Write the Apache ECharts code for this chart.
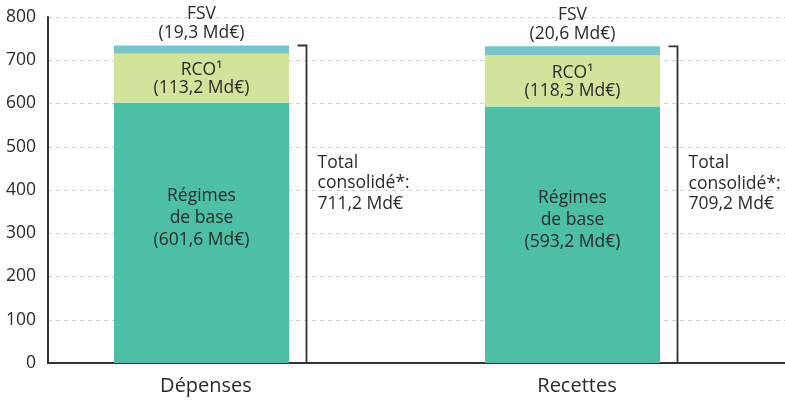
<!DOCTYPE html>
<html>
<head>
    <meta charset="UTF-8">
    <title>Dépenses et recettes</title>
    <script src="https://cdn.jsdelivr.net/npm/echarts@6/dist/echarts.min.js"></script>
    <style>
        body { margin: 0; background: #fff; }
        #chart { width: 785px; height: 401px; }
    </style>
</head>
<body>
<div id="chart"></div>
<script>
    // données (Md€)
    var categories = ['Dépenses', 'Recettes'];
    var regimesBase = [601.6, 593.2];
    var rco = [113.2, 118.3];
    var fsv = [19.3, 20.6];
    var totalConsolide = [711.2, 709.2];
    var yTicks = [0, 100, 200, 300, 400, 500, 600, 700, 800];

    var FONT = '"Open Sans", sans-serif';
    var TXT = '#2b2b2b';

    function fmt(v) {
        return v.toFixed(1).replace('.', ',');
    }

    // hauteur totale de chaque barre empilée, pour l'accolade
    var bracketData = categories.map(function (c, i) {
        return [i, regimesBase[i] + rco[i] + fsv[i], totalConsolide[i]];
    });

    var myChart = echarts.init(document.getElementById('chart'));

    var option = {
        animation: false,
        grid: { left: 48, right: -5, top: 17, bottom: 38, outerBoundsMode: 'none' },
        xAxis: {
            type: 'category',
            data: categories,
            axisLine: { lineStyle: { color: '#333', width: 2 } },
            axisTick: { show: false },
            axisLabel: {
                color: TXT, fontSize: 20, fontFamily: FONT, margin: 13,
                padding: [0, 55, 0, 0]
            }
        },
        yAxis: {
            type: 'value',
            min: yTicks[0],
            max: yTicks[yTicks.length - 1],
            interval: 100,
            axisLine: { show: true, lineStyle: { color: '#333', width: 2 } },
            axisTick: { show: false },
            axisLabel: { color: TXT, fontSize: 17.5, fontFamily: FONT, margin: 12 },
            splitLine: { lineStyle: { color: '#cfcfcf', type: [4, 4], width: 1 } }
        },
        series: [
            {
                name: 'Régimes de base',
                type: 'bar',
                stack: 'total',
                barWidth: 175,
                barGap: '0%',
                data: regimesBase,
                itemStyle: { color: '#4dbfa5' },
                label: {
                    show: true, position: 'inside', offset: [0, -15],
                    color: TXT, fontSize: 17.5, fontFamily: FONT, lineHeight: 22,
                    formatter: function (p) { return 'Régimes\nde base\n(' + fmt(p.value) + ' Md€)'; }
                }
            },
            {
                name: 'RCO',
                type: 'bar',
                stack: 'total',
                barWidth: 175,
                barGap: '0%',
                data: rco,
                itemStyle: { color: '#d2e39b' },
                label: {
                    show: true, position: 'inside', offset: [0, 1],
                    color: TXT, fontSize: 17.5, fontFamily: FONT, lineHeight: 18,
                    formatter: function (p) { return 'RCO¹\n(' + fmt(p.value) + ' Md€)'; }
                }
            },
            {
                name: 'FSV',
                type: 'bar',
                stack: 'total',
                barWidth: 175,
                barGap: '0%',
                data: fsv,
                itemStyle: { color: '#79c5cb' },
                label: {
                    show: true, position: 'top', distance: 3,
                    color: TXT, fontSize: 17.5, fontFamily: FONT, lineHeight: 19,
                    formatter: function (p) { return 'FSV\n(' + fmt(p.value) + ' Md€)'; }
                }
            },
            {
                // colonne vide : décale les barres vers la gauche pour laisser la place à l'accolade
                name: 'espace',
                type: 'bar',
                stack: 'espace',
                barWidth: 64,
                barGap: '0%',
                silent: true,
                data: ['-', '-']
            },
            {
                name: 'Total consolidé',
                type: 'custom',
                silent: true,
                data: bracketData,
                encode: { x: 0, y: 1 },
                renderItem: function (params, api) {
                    var i = api.value(0);
                    var base = api.coord([i, 0]);
                    var top = api.coord([i, api.value(1)]);
                    var x = base[0] + 73;
                    return {
                        type: 'group',
                        children: [
                            {
                                type: 'polyline',
                                shape: { points: [[x - 9, top[1]], [x, top[1]], [x, base[1]], [x - 9, base[1]]] },
                                style: { stroke: '#333', lineWidth: 1.8, fill: null }
                            },
                            {
                                type: 'text',
                                x: x + 11,
                                y: (top[1] + base[1]) / 2 - 21,
                                style: {
                                    text: 'Total\nconsolidé*:\n' + fmt(api.value(2)) + ' Md€',
                                    fill: TXT,
                                    font: '17.5px ' + FONT,
                                    lineHeight: 20.5,
                                    align: 'left',
                                    verticalAlign: 'middle'
                                }
                            }
                        ]
                    };
                }
            }
        ]
    };

    myChart.setOption(option);
</script>
</body>
</html>
